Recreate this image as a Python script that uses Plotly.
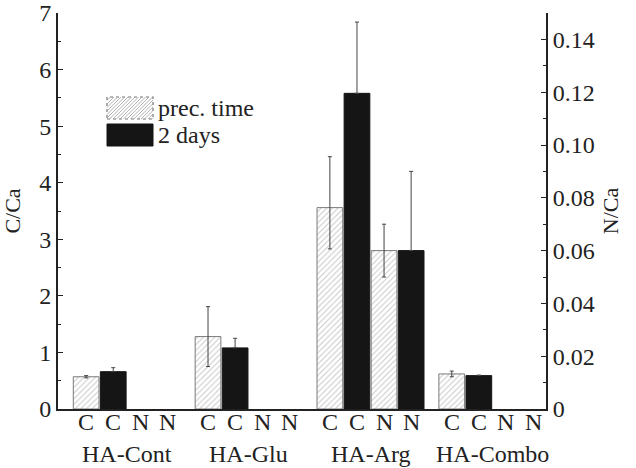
import plotly.graph_objects as go

groups = ["HA-Cont", "HA-Glu", "HA-Arg", "HA-Combo"]
slot_labels = ["C", "C", "N", "N"]

c_prec = [0.57, 1.28, 3.56, 0.62]
c_prec_err_plus = [0.02, 0.53, 0.90, 0.05]
c_prec_err_minus = [0.02, 0.53, 0.73, 0.05]

c_2d = [0.66, 1.08, 5.58, 0.59]
c_2d_err = [0.07, 0.17, 1.26, 0.01]

n_prec = [None, None, 0.060, None]
n_prec_err = [0, 0, 0.010, 0]

n_2d = [None, None, 0.060, None]
n_2d_err = [0, 0, 0.030, 0]

legend_names = ["prec. time", "2 days"]

GAP = 4.5
def xs(slot):
    return [g * GAP + slot for g in range(len(groups))]

hatch = dict(color="white", line=dict(color="#7a7a7a", width=1),
             pattern=dict(shape="/", fgcolor="#909090", bgcolor="white", size=4, solidity=0.25))
solid = dict(color="#151515", line=dict(color="#151515", width=1))
errc = "#444444"
zeros = [0] * len(groups)

fig = go.Figure()
fig.add_trace(go.Bar(x=xs(0), y=c_prec, width=0.95, marker=hatch, name=legend_names[0],
                     showlegend=False,
                     error_y=dict(type="data", symmetric=False, array=c_prec_err_plus,
                                  arrayminus=c_prec_err_minus, color=errc, thickness=1, width=2)))
fig.add_trace(go.Bar(x=xs(1), y=c_2d, width=0.95, marker=solid, name=legend_names[1],
                     showlegend=False,
                     error_y=dict(type="data", symmetric=False, array=c_2d_err, arrayminus=zeros,
                                  color=errc, thickness=1, width=2)))
fig.add_trace(go.Bar(x=xs(2), y=n_prec, width=0.95, marker=hatch, name=legend_names[0],
                     showlegend=False, yaxis="y2",
                     error_y=dict(type="data", array=n_prec_err, color=errc, thickness=1, width=2)))
fig.add_trace(go.Bar(x=xs(3), y=n_2d, width=0.95, marker=solid, name=legend_names[1],
                     showlegend=False, yaxis="y2",
                     error_y=dict(type="data", symmetric=False, array=n_2d_err, arrayminus=zeros,
                                  color=errc, thickness=1, width=2)))

text_font = dict(family="Liberation Serif", size=24, color="#222")

# slot letters (C C N N) under each bar
for g in range(len(groups)):
    for s, lab in enumerate(slot_labels):
        fig.add_annotation(x=g * GAP + s, y=0, xref="x", yref="paper", yshift=-13,
                           yanchor="middle", text=lab, showarrow=False, font=text_font)
# group names
for g, name in enumerate(groups):
    fig.add_annotation(x=g * GAP + 1.5, y=0, xref="x", yref="paper", yshift=-45,
                       yanchor="middle", text=name, showarrow=False, font=text_font)

# --- custom legend (large swatches) in pixel-based paper coordinates ---
L, R, T, B = 58, 546, 13, 409
def px(x):
    return (x - L) / (R - L)
def py(y):
    return (B - y) / (B - T)

sw_x0, sw_x1 = 107, 153
rows = [(97, 119), (124, 146)]
y0, y1 = rows[0]
fig.add_shape(type="rect", xref="paper", yref="paper", x0=px(sw_x0), x1=px(sw_x1),
              y0=py(y1), y1=py(y0), fillcolor="white",
              line=dict(color="#777", width=1.2, dash="dot"))
segs = []
step = 3.5
h = y1 - y0
k = sw_x0 - h
while k < sw_x1:
    xa, ya = k, y1
    xb, yb = k + h, y0
    if xa < sw_x0:
        ya = y1 - (sw_x0 - xa)
        xa = sw_x0
    if xb > sw_x1:
        yb = y0 + (xb - sw_x1)
        xb = sw_x1
    if xb > xa:
        segs.append(f"M{px(xa)},{py(ya)} L{px(xb)},{py(yb)}")
    k += step
fig.add_shape(type="path", xref="paper", yref="paper", path=" ".join(segs),
              line=dict(color="#a0a0a0", width=0.8))
y0, y1 = rows[1]
fig.add_shape(type="rect", xref="paper", yref="paper", x0=px(sw_x0), x1=px(sw_x1),
              y0=py(y1), y1=py(y0), fillcolor="#151515", line=dict(color="#151515", width=1))
for (ya, yb), name in zip(rows, legend_names):
    fig.add_annotation(x=px(sw_x1 + 3), y=py((ya + yb) / 2), xref="paper", yref="paper",
                       xanchor="left", yanchor="middle", text=name, showarrow=False,
                       font=text_font)

font = dict(family="Liberation Serif", size=24, color="#222")
title_font = dict(family="Liberation Serif", size=22, color="#222")
fig.update_layout(
    width=636, height=468,
    margin=dict(l=58, r=90, t=13, b=59, autoexpand=False),
    plot_bgcolor="white", paper_bgcolor="white",
    barmode="overlay",
    font=font,
    showlegend=False,
    xaxis=dict(range=[-1.04, 3 * GAP + 3.48], showticklabels=False,
               showline=True, linecolor="#222", linewidth=2, ticks="", showgrid=False,
               zeroline=False, automargin=False),
    yaxis=dict(range=[0, 7], dtick=1, showline=True, linecolor="#222", linewidth=2,
               ticks="inside", ticklen=5, tickcolor="#222", showgrid=False, zeroline=False,
               minor=dict(dtick=0.5, ticks="inside", ticklen=3, tickcolor="#222"),
               title=dict(text="C/Ca", font=title_font, standoff=14),
               tickfont=font, automargin=False),
    yaxis2=dict(range=[0, 0.15], overlaying="y", side="right",
                tickvals=[0, 0.02, 0.04, 0.06, 0.08, 0.10, 0.12, 0.14],
                ticktext=["0", "0.02", "0.04", "0.06", "0.08", "0.10", "0.12", "0.14"],
                showline=True, linecolor="#222", linewidth=2,
                ticks="inside", ticklen=5, tickcolor="#222", showgrid=False, zeroline=False,
                minor=dict(dtick=0.01, ticks="inside", ticklen=3, tickcolor="#222"),
                title=dict(text="N/Ca", font=title_font, standoff=9),
                tickfont=font, automargin=False),
)

fig.write_html("out.html", config={"displayModeBar": False},
               post_script="document.body.style.margin='0px';document.body.style.overflow='hidden';")
